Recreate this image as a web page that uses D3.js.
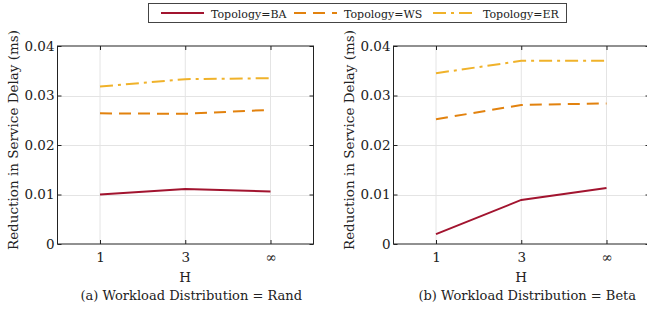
<!DOCTYPE html>
<html>
<head>
<meta charset="utf-8">
<script src="https://cdn.jsdelivr.net/npm/d3@7"></script>
<style>
  body { margin: 0; background: #fff; }
  svg text { font-family: "DejaVu Serif", serif; fill: #222; }
</style>
</head>
<body>
<div id="chart"></div>
<script>
// x categories
var hLabels = ["1", "3", "\u221E"];

// series values, panel (a) Rand
var randBA = [0.0100, 0.0111, 0.0106];
var randWS = [0.0264, 0.0263, 0.0271];
var randER = [0.0318, 0.0333, 0.0335];

// series values, panel (b) Beta
var betaBA = [0.0020, 0.0089, 0.0113];
var betaWS = [0.0252, 0.0281, 0.0284];
var betaER = [0.0345, 0.0370, 0.0370];

var yTicks = [0, 0.01, 0.02, 0.03, 0.04];
var topologies = ["BA", "WS", "ER"];
var colors = { BA: "#A2142F", WS: "#E2820E", ER: "#F0B22A" };
var dashes = { BA: null, WS: "12,7", ER: "13,5,3,5" };

var panels = [
    { left: 57.5, caption: "(a) Workload Distribution = Rand", data: { BA: randBA, WS: randWS, ER: randER } },
    { left: 393.5, caption: "(b) Workload Distribution = Beta", data: { BA: betaBA, WS: betaWS, ER: betaER } }
];

var W = 647, H = 310;
var plotW = 256, plotTop = 46, plotBottom = 244;

var svg = d3.select("#chart").append("svg")
    .attr("width", W)
    .attr("height", H);

panels.forEach(function(p) {
    var x = d3.scalePoint().domain(hLabels).range([p.left + 42.5, p.left + plotW - 43]);
    var y = d3.scaleLinear().domain([0, 0.04]).range([plotBottom, plotTop]);
    var g = svg.append("g");

    // grid
    g.selectAll(".hgrid").data(yTicks.slice(1, 4)).enter().append("line")
        .attr("x1", p.left).attr("x2", p.left + plotW)
        .attr("y1", function(d) { return Math.round(y(d)) + 0.5; })
        .attr("y2", function(d) { return Math.round(y(d)) + 0.5; })
        .attr("stroke", "#e4e4e4").attr("stroke-width", 1);
    g.selectAll(".vgrid").data(hLabels).enter().append("line")
        .attr("x1", function(d) { return x(d); }).attr("x2", function(d) { return x(d); })
        .attr("y1", plotTop).attr("y2", plotBottom)
        .attr("stroke", "#e4e4e4").attr("stroke-width", 1);

    // series
    var line = d3.line()
        .x(function(d, i) { return x(hLabels[i]); })
        .y(function(d) { return y(d); });

    topologies.forEach(function(t) {
        g.append("path")
            .datum(p.data[t])
            .attr("d", line)
            .attr("fill", "none")
            .attr("stroke", colors[t])
            .attr("stroke-width", 2)
            .attr("stroke-dasharray", dashes[t]);
    });

    // axes, ticks inward
    g.append("g").attr("transform", "translate(" + p.left + ",0)")
        .call(d3.axisLeft(y).tickValues(yTicks).tickSizeInner(-4).tickSizeOuter(0)
            .tickPadding(3).tickFormat(function(d) { return d === 0 ? "0" : d3.format(".2f")(d); }))
        .call(function(a) { a.select(".domain").remove(); });
    g.append("g").attr("transform", "translate(" + (p.left + plotW) + ",0)")
        .call(d3.axisRight(y).tickValues(yTicks).tickSizeInner(-4).tickSizeOuter(0).tickFormat(""))
        .call(function(a) { a.select(".domain").remove(); });
    g.append("g").attr("transform", "translate(0," + plotBottom + ")")
        .call(d3.axisBottom(x).tickSizeInner(-4).tickSizeOuter(0).tickPadding(8))
        .call(function(a) { a.select(".domain").remove(); });
    g.append("g").attr("transform", "translate(0," + plotTop + ")")
        .call(d3.axisTop(x).tickSizeInner(-4).tickSizeOuter(0).tickFormat(""))
        .call(function(a) { a.select(".domain").remove(); });

    g.selectAll(".tick line").attr("stroke", "#222");
    g.selectAll(".tick text").style("font-size", "13.5px").attr("fill", "#222");

    g.append("rect")
        .attr("x", p.left).attr("y", plotTop)
        .attr("width", plotW).attr("height", plotBottom - plotTop)
        .attr("fill", "none").attr("stroke", "#222").attr("stroke-width", 1);

    // labels
    g.append("text")
        .attr("transform", "translate(" + (p.left - 40) + "," + ((plotTop + plotBottom) / 2 - 5) + ") rotate(-90)")
        .attr("text-anchor", "middle")
        .style("font-size", "13.5px")
        .text("Reduction in Service Delay (ms)");
    g.append("text")
        .attr("x", x("3")).attr("y", 282)
        .attr("text-anchor", "middle")
        .style("font-size", "13.5px")
        .text("H");
    g.append("text")
        .attr("x", x("3") + 6).attr("y", 300)
        .attr("text-anchor", "middle")
        .style("font-size", "13px")
        .text(p.caption);
});

// legend
var legend = svg.append("g");
legend.append("rect")
    .attr("x", 148.5).attr("y", 3.5).attr("width", 418).attr("height", 19)
    .attr("fill", "#fff").attr("stroke", "#444").attr("stroke-width", 1);
var legendX = [161, 294, 433];
topologies.forEach(function(t, i) {
    legend.append("line")
        .attr("x1", legendX[i]).attr("x2", legendX[i] + 43)
        .attr("y1", 13).attr("y2", 13)
        .attr("stroke", colors[t]).attr("stroke-width", 2)
        .attr("stroke-dasharray", dashes[t]);
    legend.append("text")
        .attr("x", legendX[i] + 50).attr("y", 17.5)
        .style("font-size", "11px")
        .text("Topology=" + t);
});
</script>
</body>
</html>
